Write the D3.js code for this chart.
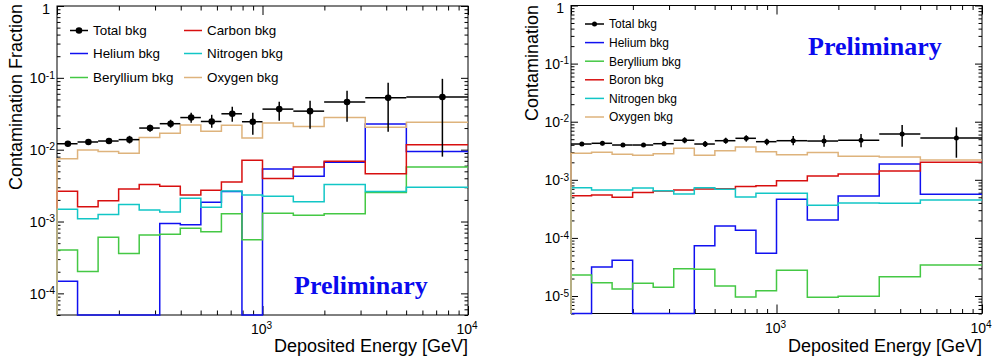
<!DOCTYPE html>
<html>
<head>
<meta charset="utf-8">
<script src="https://cdn.jsdelivr.net/npm/d3@7"></script>
<style>
  body { margin: 0; background: #fff; }
  svg { display: block; font-family: "Liberation Sans", Arial, sans-serif; }
</style>
</head>
<body>
<svg id="chart" width="992" height="360"></svg>
<script>
// bin edges [GeV], shared by both panels
const binEdges = [100, 125.9, 158.5, 199.5, 251.2, 316.2, 398.1, 501.2, 631.0, 794.3,
                  1000, 1412.5, 1995.3, 3162.3, 5011.9, 10000];
const xTickValues = [1000, 10000];
const xTickLabels = ['10^3', '10^4'];

// ---- left panel ----
const leftYTickValues = [1, 1e-1, 1e-2, 1e-3, 1e-4];
const leftYTickLabels = ['1', '10^-1', '10^-2', '10^-3', '10^-4'];
const leftTotal     = [0.0121, 0.0128, 0.0132, 0.0138, 0.0200, 0.0230, 0.0280, 0.0247, 0.0316, 0.0245, 0.0367, 0.0344, 0.0460, 0.0527, 0.0540];
const leftTotalLow  = [0.0114, 0.0121, 0.0122, 0.0122, 0.0178, 0.0202, 0.0237, 0.0202, 0.0245, 0.0162, 0.0253, 0.0196, 0.0245, 0.0178, 0.0080];
const leftTotalHigh = [0.0129, 0.0136, 0.0143, 0.0156, 0.0222, 0.0261, 0.0327, 0.0306, 0.0396, 0.0327, 0.0464, 0.0480, 0.0660, 0.0853, 0.0969];
const leftHelium    = [1.48e-4, 0, 0, 0, 0, 9.4e-4, 9.0e-4, 1.86e-3, 2.61e-3, 0, 5.38e-3, 4.26e-3, 6.67e-3, 2.27e-2, 9.4e-3];
const leftBeryllium = [4.0e-4, 2.02e-4, 6.05e-4, 3.6e-4, 6.5e-4, 6.67e-4, 8.07e-4, 7.2e-4, 1.28e-3, 5.56e-4, 1.30e-3, 1.22e-3, 1.28e-3, 2.53e-3, 5.74e-3];
const leftCarbon    = [2.64e-3, 1.60e-3, 1.94e-3, 2.84e-3, 3.27e-3, 3.10e-3, 2.34e-3, 2.72e-3, 3.56e-3, 7.1e-3, 3.96e-3, 5.74e-3, 6.89e-3, 4.64e-3, 1.17e-2];
const leftNitrogen  = [1.48e-3, 1.09e-3, 1.25e-3, 1.72e-3, 1.45e-3, 1.36e-3, 2.11e-3, 1.58e-3, 2.67e-3, 2.34e-3, 2.25e-3, 1.88e-3, 3.27e-3, 2.61e-3, 3.0e-3];
const leftOxygen    = [0.0075, 0.0099, 0.0094, 0.0089, 0.0148, 0.0170, 0.0220, 0.0180, 0.0218, 0.0145, 0.0235, 0.0211, 0.0281, 0.0206, 0.0240];

// ---- right panel ----
const rightYTickValues = [1, 1e-1, 1e-2, 1e-3, 1e-4, 1e-5];
const rightYTickLabels = ['1', '10^-1', '10^-2', '10^-3', '10^-4', '10^-5'];
const rightTotal     = [0.00413, 0.00425, 0.00397, 0.00397, 0.00418, 0.00479, 0.00413, 0.00471, 0.00518, 0.00453, 0.00471, 0.00465, 0.00479, 0.00614, 0.00525];
const rightTotalLow  = [0.00381, 0.00392, 0.00367, 0.00367, 0.00386, 0.00425, 0.00367, 0.00418, 0.00453, 0.00395, 0.00393, 0.00371, 0.00362, 0.00370, 0.00240];
const rightTotalHigh = [0.00447, 0.00460, 0.00430, 0.00430, 0.00453, 0.00539, 0.00465, 0.00530, 0.00583, 0.00510, 0.00567, 0.00583, 0.00614, 0.00880, 0.00800];
const rightHelium    = [0, 3.15e-5, 4.11e-5, 0, 0, 0, 7.34e-5, 1.60e-4, 1.35e-4, 5.43e-5, 4.61e-4, 2.03e-4, 5.26e-4, 1.87e-3, 5.62e-4];
const rightBeryllium = [2.3e-5, 1.69e-5, 1.32e-5, 1.65e-5, 1.41e-5, 2.95e-5, 2.88e-5, 1.49e-5, 9.6e-6, 1.23e-5, 2.77e-5, 9.5e-6, 9.9e-6, 2.15e-5, 3.41e-5];
const rightBoron     = [5.32e-4, 5.47e-4, 5.0e-4, 6.04e-4, 6.41e-4, 6.67e-4, 6.95e-4, 7.03e-4, 7.67e-4, 7.88e-4, 9.66e-4, 1.16e-3, 1.26e-3, 1.42e-3, 2.0e-3];
const rightNitrogen  = [7.31e-4, 6.67e-4, 6.67e-4, 7.22e-4, 6.49e-4, 5.7e-4, 7.31e-4, 6.89e-4, 5.06e-4, 5.86e-4, 5.86e-4, 3.64e-4, 3.99e-4, 3.94e-4, 4.49e-4];
const rightOxygen    = [2.86e-3, 2.97e-3, 2.75e-3, 2.64e-3, 2.81e-3, 3.48e-3, 2.64e-3, 3.17e-3, 3.67e-3, 3.05e-3, 2.69e-3, 2.95e-3, 2.55e-3, 2.47e-3, 2.19e-3];

const colors = {
  helium: '#1010f0',
  beryllium: '#44c844',
  carbon: '#d80f0f',
  nitrogen: '#12c6c6',
  oxygen: '#deb37c',
  prelim: '#0a0aee'
};

const panels = [
  {
    x0: 57, x1: 468, y0: 6, y1: 315, yMin: 5e-5,
    yTicks: leftYTickValues, yLabels: leftYTickLabels, yLabelSize: 14.5,
    yTitle: 'Contamination Fraction', yTitleX: 22, yTitleY: 4,
    total: { values: leftTotal, low: leftTotalLow, high: leftTotalHigh, r: 3.3 },
    series: [
      { name: 'Helium bkg', values: leftHelium, color: colors.helium },
      { name: 'Beryllium bkg', values: leftBeryllium, color: colors.beryllium },
      { name: 'Carbon bkg', values: leftCarbon, color: colors.carbon },
      { name: 'Nitrogen bkg', values: leftNitrogen, color: colors.nitrogen },
      { name: 'Oxygen bkg', values: leftOxygen, color: colors.oxygen }
    ],
    legend: { cols: [70, 184], rows: [30.5, 53.5, 77.5], lineLen: 18, font: 13.4 },
    prelim: { x: 294, y: 294 }
  },
  {
    x0: 571, x1: 982, y0: 5.5, y1: 313.5, yMin: 5e-6,
    yTicks: rightYTickValues, yLabels: rightYTickLabels, yLabelSize: 14,
    yTitle: 'Contamination', yTitleX: 538, yTitleY: 5,
    total: { values: rightTotal, low: rightTotalLow, high: rightTotalHigh, r: 2.5 },
    series: [
      { name: 'Helium bkg', values: rightHelium, color: colors.helium },
      { name: 'Beryllium bkg', values: rightBeryllium, color: colors.beryllium },
      { name: 'Boron bkg', values: rightBoron, color: colors.carbon },
      { name: 'Nitrogen bkg', values: rightNitrogen, color: colors.nitrogen },
      { name: 'Oxygen bkg', values: rightOxygen, color: colors.oxygen }
    ],
    legend: { cols: [585], rows: [24, 42.6, 61.2, 79.8, 98.4, 117], lineLen: 19, font: 12 },
    prelim: { x: 808, y: 55 }
  }
];

const svg = d3.select('#chart');

function isDecade(v) {
  const l = Math.log10(v);
  return Math.abs(l - Math.round(l)) < 1e-6;
}

function putLabel(text, label) {
  const parts = label.split('^');
  text.append('tspan').text(parts[0]);
  if (parts[1]) {
    text.append('tspan').attr('dy', '-0.45em').attr('font-size', '72%').text(parts[1]);
  }
}

function drawPanel(p) {
  const x = d3.scaleLog().domain([binEdges[0], binEdges[binEdges.length - 1]]).range([p.x0, p.x1]);
  const y = d3.scaleLog().domain([p.yMin, 1]).range([p.y1, p.y0]);
  const yc = v => y(Math.max(v, p.yMin));

  const g = svg.append('g');

  // frame
  g.append('rect')
    .attr('x', p.x0).attr('y', p.y0)
    .attr('width', p.x1 - p.x0).attr('height', p.y1 - p.y0)
    .attr('fill', 'none').attr('stroke', '#000').attr('stroke-width', 1);

  const xAll = x.ticks();
  const xMajor = xAll.filter(isDecade), xMinor = xAll.filter(v => !isDecade(v));
  const yAll = y.ticks();
  const yMajor = yAll.filter(isDecade), yMinor = yAll.filter(v => !isDecade(v));

  const tickStyle = s => {
    s.select('.domain').remove();
    s.selectAll('line').attr('stroke', '#000');
  };

  // ticks on all four sides, pointing inward
  [[xMajor, 9], [xMinor, 4.5]].forEach(([vals, len]) => {
    g.append('g').attr('transform', `translate(0,${p.y1})`)
      .call(d3.axisBottom(x).tickValues(vals).tickSize(-len).tickFormat(''))
      .call(tickStyle);
    g.append('g').attr('transform', `translate(0,${p.y0})`)
      .call(d3.axisTop(x).tickValues(vals).tickSize(-len).tickFormat(''))
      .call(tickStyle);
  });
  [[yMajor, 7], [yMinor, 3.5]].forEach(([vals, len]) => {
    g.append('g').attr('transform', `translate(${p.x0},0)`)
      .call(d3.axisLeft(y).tickValues(vals).tickSize(-len).tickFormat(''))
      .call(tickStyle);
    g.append('g').attr('transform', `translate(${p.x1},0)`)
      .call(d3.axisRight(y).tickValues(vals).tickSize(-len).tickFormat(''))
      .call(tickStyle);
  });

  // tick labels ("1" sits at the very top, so it is nudged down to stay inside)
  p.yTicks.forEach((v, i) => {
    const lab = p.yLabels[i];
    const sup = lab.includes('^');
    const t = g.append('text')
      .attr('x', sup ? p.x0 - 2 : p.x0 - 7)
      .attr('y', sup ? y(v) : y(v) + 7.5).attr('dy', sup ? '0.38em' : null)
      .attr('text-anchor', 'end').attr('font-size', p.yLabelSize);
    putLabel(t, lab);
  });
  xTickValues.forEach((v, i) => {
    const t = g.append('text')
      .attr('x', x(v) - 1).attr('y', p.y1 + 19)
      .attr('text-anchor', 'middle').attr('font-size', 14);
    putLabel(t, xTickLabels[i]);
  });

  // axis titles
  g.append('text')
    .attr('transform', `translate(${p.yTitleX},${p.yTitleY}) rotate(-90)`)
    .attr('text-anchor', 'end').attr('font-size', 18)
    .text(p.yTitle);
  g.append('text')
    .attr('x', p.x1).attr('y', 352)
    .attr('text-anchor', 'end').attr('font-size', 18)
    .text('Deposited Energy [GeV]');

  // histograms
  const line = d3.line().x(d => d[0]).y(d => d[1]).curve(d3.curveStepAfter);
  p.series.forEach(s => {
    const pts = [[x(binEdges[0]), p.y1]];
    s.values.forEach((v, i) => pts.push([x(binEdges[i]), yc(v)]));
    pts.push([x(binEdges[binEdges.length - 1]), yc(s.values[s.values.length - 1])]);
    g.append('path').attr('d', line(pts))
      .attr('fill', 'none').attr('stroke', s.color).attr('stroke-width', 1.5);
  });

  // total background: points with error bars
  const tot = p.total;
  const gt = g.append('g');
  tot.values.forEach((v, i) => {
    const xl = x(binEdges[i]), xr = x(binEdges[i + 1]);
    const xc = x((binEdges[i] + binEdges[i + 1]) / 2);
    gt.append('line').attr('x1', xl).attr('x2', xr).attr('y1', y(v)).attr('y2', y(v))
      .attr('stroke', '#000').attr('stroke-width', 1.5);
    gt.append('line').attr('x1', xc).attr('x2', xc).attr('y1', y(tot.low[i])).attr('y2', y(tot.high[i]))
      .attr('stroke', '#000').attr('stroke-width', 1.5);
    gt.append('circle').attr('cx', xc).attr('cy', y(v)).attr('r', tot.r).attr('fill', '#000');
  });

  // legend
  const entries = [{ name: 'Total bkg', color: '#000', marker: true }].concat(p.series);
  const nRows = p.legend.rows.length;
  entries.forEach((e, i) => {
    const lx = p.legend.cols[Math.floor(i / nRows)];
    const ly = p.legend.rows[i % nRows];
    g.append('line').attr('x1', lx).attr('x2', lx + p.legend.lineLen)
      .attr('y1', ly).attr('y2', ly)
      .attr('stroke', e.color).attr('stroke-width', 1.5);
    if (e.marker) {
      g.append('circle').attr('cx', lx + p.legend.lineLen / 2).attr('cy', ly)
        .attr('r', tot.r).attr('fill', '#000');
    }
    g.append('text').attr('x', lx + p.legend.lineLen + 5).attr('y', ly)
      .attr('dy', '0.36em').attr('font-size', p.legend.font)
      .text(e.name);
  });

  g.append('text')
    .attr('x', p.prelim.x).attr('y', p.prelim.y)
    .attr('font-family', '"Liberation Serif", "Times New Roman", serif')
    .attr('font-weight', 'bold').attr('font-size', 26)
    .attr('fill', colors.prelim)
    .text('Preliminary');
}

panels.forEach(drawPanel);
</script>
</body>
</html>
